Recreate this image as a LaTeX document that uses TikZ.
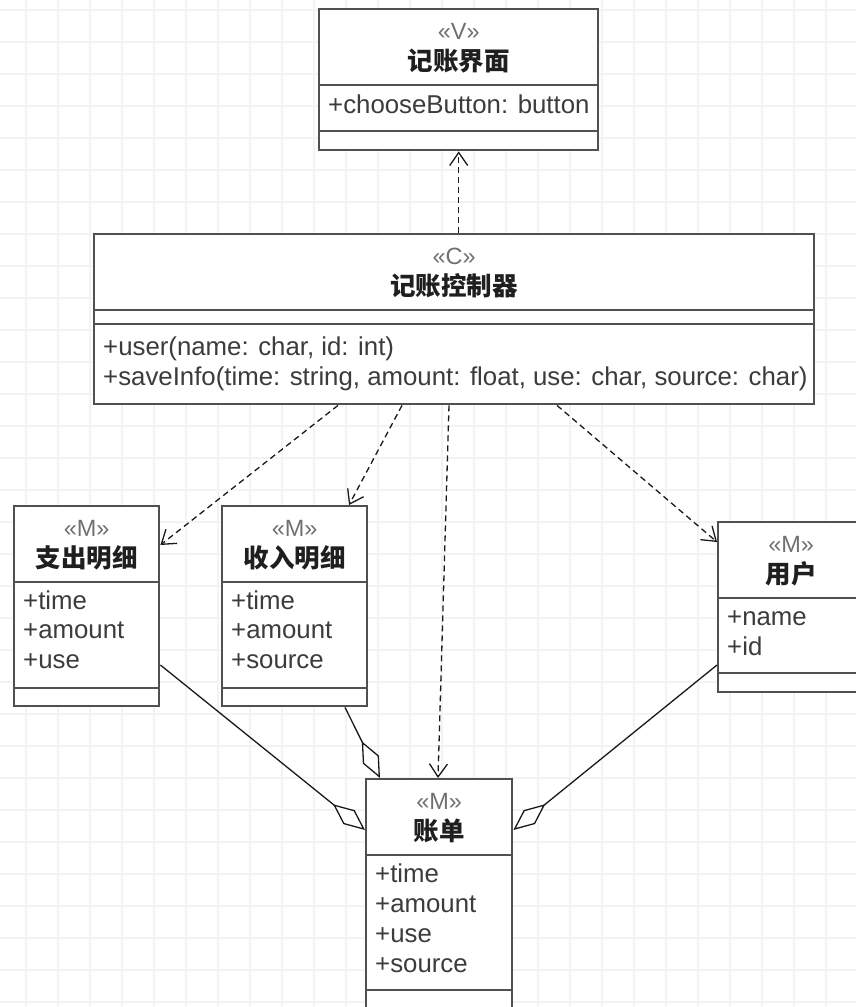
\documentclass[tikz,border=0pt]{standalone}
\usepackage{fontspec}
\setmainfont{Liberation Sans}
\newfontfamily\cjk{Noto Sans CJK SC}
\usetikzlibrary{arrows.meta,calc}
\definecolor{boxgray}{HTML}{505050}
\definecolor{stereogray}{HTML}{707070}
\definecolor{attrgray}{HTML}{3C3C3C}
\definecolor{gridgray}{HTML}{F3F3F3}

\tikzset{
	umlbox/.style={draw=boxgray, line width=2.4pt, fill=white, anchor=north west, inner sep=0pt},
	sepline/.style={draw=boxgray, line width=2.4pt},
	stereo/.style={text=stereogray, font=\fontsize{23.5}{26}\selectfont, inner sep=0pt},
	ctitle/.style={text=black!88, font=\fontsize{25.5}{28}\cjk\bfseries, inner sep=0pt},
	attr/.style={text=attrgray, font=\fontsize{25.8}{30}\selectfont, anchor=west, inner sep=0pt, text height=18pt, text depth=5pt},
	dep/.style={draw=black!90, line width=1.3pt, dash pattern=on 6pt off 4pt, -{Straight Barb[length=13pt,width=18pt]}},
	agg/.style={draw=black!90, line width=1.3pt, {Diamond[open,length=41pt,width=18pt,fill=white]}-},
}

\begin{document}
\begin{tikzpicture}[x=1pt, y=-1pt]
	%%%%% START %%%%%
	\useasboundingbox (0,0) rectangle (856,1007);
	\clip (0,0) rectangle (856,1007);
	\fill[white] (0,0) rectangle (856,1007);
	\foreach \gx in {-6,26,...,870} \draw[gridgray, line width=1.2pt] (\gx,0) -- (\gx,1007);
	\foreach \gy in {10,42,...,1020} \draw[gridgray, line width=1.2pt] (0,\gy) -- (856,\gy);
	
	% view
	\node[umlbox, minimum width=279pt, minimum height=141pt] (view) at (318,8) {};
	\node[stereo] at ($(view.north)+(0,23)$) {«V»};
	\node[ctitle] at ($(view.north)+(0,53)$) {记账界面};
	\draw[sepline] ($(view.north west)+(0,77)$) -- ($(view.north east)+(0,77)$);
	\node[attr] at ($(view.north west)+(10,99)$) {+chooseButton: button};
	\draw[sepline] ($(view.north west)+(0,123)$) -- ($(view.north east)+(0,123)$);
	
	% controller
	\node[umlbox, minimum width=720pt, minimum height=170pt] (ctrl) at (93,233) {};
	\node[stereo] at ($(ctrl.north)+(0,23)$) {«C»};
	\node[ctitle] at ($(ctrl.north)+(0,53)$) {记账控制器};
	\draw[sepline] ($(ctrl.north west)+(0,77)$) -- ($(ctrl.north east)+(0,77)$);
	\draw[sepline] ($(ctrl.north west)+(0,91)$) -- ($(ctrl.north east)+(0,91)$);
	\node[attr] at ($(ctrl.north west)+(10,116)$) {+user(name: char, id: int)};
	\node[attr] at ($(ctrl.north west)+(10,146)$) {+saveInfo(time: string, amount: float, use: char, source: char)};
	
	% models
	\node[umlbox, minimum width=145pt, minimum height=200pt] (zhichu) at (13,505) {};
	\node[stereo] at ($(zhichu.north)+(0,23)$) {«M»};
	\node[ctitle] at ($(zhichu.north)+(0,53)$) {支出明细};
	\draw[sepline] ($(zhichu.north west)+(0,77)$) -- ($(zhichu.north east)+(0,77)$);
	\node[attr] at ($(zhichu.north west)+(10,98)$) {+time};
	\node[attr] at ($(zhichu.north west)+(10,127)$) {+amount};
	\node[attr] at ($(zhichu.north west)+(10,157)$) {+use};
	\draw[sepline] ($(zhichu.north west)+(0,183)$) -- ($(zhichu.north east)+(0,183)$);
	
	\node[umlbox, minimum width=145pt, minimum height=200pt] (shouru) at (221,505) {};
	\node[stereo] at ($(shouru.north)+(0,23)$) {«M»};
	\node[ctitle] at ($(shouru.north)+(0,53)$) {收入明细};
	\draw[sepline] ($(shouru.north west)+(0,77)$) -- ($(shouru.north east)+(0,77)$);
	\node[attr] at ($(shouru.north west)+(10,98)$) {+time};
	\node[attr] at ($(shouru.north west)+(10,127)$) {+amount};
	\node[attr] at ($(shouru.north west)+(10,157)$) {+source};
	\draw[sepline] ($(shouru.north west)+(0,183)$) -- ($(shouru.north east)+(0,183)$);
	
	\node[umlbox, minimum width=146pt, minimum height=170pt] (yonghu) at (717,521) {};
	\node[stereo] at ($(yonghu.north)+(0,23)$) {«M»};
	\node[ctitle] at ($(yonghu.north)+(0,53)$) {用户};
	\draw[sepline] ($(yonghu.north west)+(0,77)$) -- ($(yonghu.north east)+(0,77)$);
	\node[attr] at ($(yonghu.north west)+(10,98)$) {+name};
	\node[attr] at ($(yonghu.north west)+(10,128)$) {+id};
	\draw[sepline] ($(yonghu.north west)+(0,152)$) -- ($(yonghu.north east)+(0,152)$);
	
	\node[umlbox, minimum width=146pt, minimum height=240pt] (zhangdan) at (365,778) {};
	\node[stereo] at ($(zhangdan.north)+(0,23)$) {«M»};
	\node[ctitle] at ($(zhangdan.north)+(0,53)$) {账单};
	\draw[sepline] ($(zhangdan.north west)+(0,77)$) -- ($(zhangdan.north east)+(0,77)$);
	\node[attr] at ($(zhangdan.north west)+(10,98)$) {+time};
	\node[attr] at ($(zhangdan.north west)+(10,128)$) {+amount};
	\node[attr] at ($(zhangdan.north west)+(10,158)$) {+use};
	\node[attr] at ($(zhangdan.north west)+(10,188)$) {+source};
	\draw[sepline] ($(zhangdan.north west)+(0,212)$) -- ($(zhangdan.north east)+(0,212)$);
	
	% dependencies
	\draw[dep] (ctrl.north -| view.south) -- (view.south);
	\draw[dep] ($(ctrl.south west)+(245,0)$) -- ($(zhichu.north east)+(0,40)$);
	\draw[dep] ($(ctrl.south west)+(309,0)$) -- ($(shouru.north west)+(128,0)$);
	\draw[dep] ($(ctrl.south west)+(356,0)$) -- ($(zhangdan.north west)+(73,0)$);
	\draw[dep] ($(ctrl.south west)+(464,0)$) -- ($(yonghu.north west)+(0,21)$);
	
	% aggregations
	\draw[agg] ($(zhangdan.north west)+(0,52)$) -- ($(zhichu.north east)+(0,160)$);
	\draw[agg] ($(zhangdan.north west)+(15,0)$) -- ($(shouru.south west)+(124,0)$);
	\draw[agg] ($(zhangdan.north east)+(0,52)$) -- ($(yonghu.north west)+(0,144)$);
	%%%%% END %%%%%
\end{tikzpicture}
\end{document}
